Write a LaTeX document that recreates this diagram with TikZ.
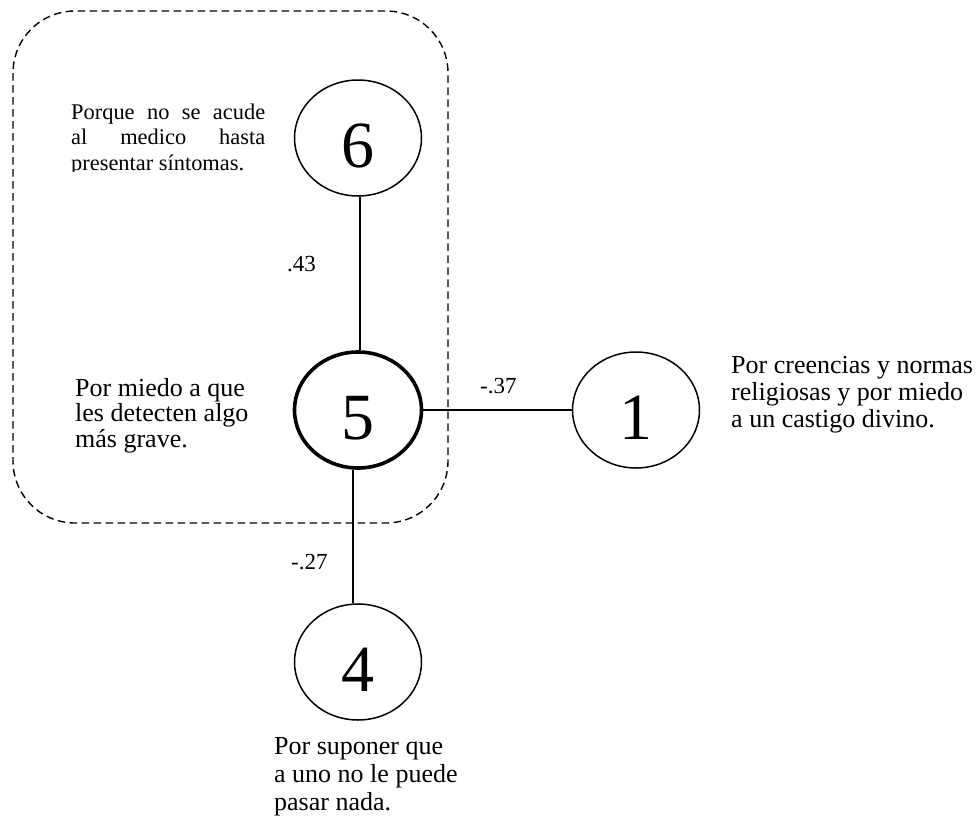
\documentclass[tikz,border=0pt]{standalone}
\usepackage{fontspec}
\setmainfont{Liberation Serif}
\usetikzlibrary{shapes.geometric}
\tikzset{
  num/.style={ellipse, draw, line width=1.5pt, minimum width=127pt, minimum height=116pt,
    inner sep=0pt, font=\fontsize{66}{66}\selectfont, text height=58pt, text depth=0pt},
  numbold/.style={num, line width=3.6pt},
  conn/.style={line width=1.5pt},
  grp/.style={line width=1.4pt, dash pattern=on 7.5pt off 4.5pt, rounded corners=62pt},
  lbl/.style={anchor=base west, inner sep=0pt, font=\fontsize{23}{26}\selectfont},
  txt/.style={anchor=base west, inner sep=0pt},
}
\begin{document}
\begin{tikzpicture}[x=1pt,y=-1pt]
\useasboundingbox (0,0) rectangle (978,820);
% group box
\draw[grp] (13,11) rectangle (448,523);
% nodes
\node[num] (c6) at (358,138) {6};
\node[numbold] (c5) at (358,410) {5};
\node[num] (c1) at (636,410) {1};
\node[num] (c4) at (358,662) {4};
% connectors
\draw[conn] (c6.272) -- (c6.272 |- c5.north);
\draw[conn] (c5.east) -- (c1.west);
\draw[conn] (c5.265) -- (c5.265 |- c4.north);
% weights
\node[lbl] (w43) at (287,271) {.43};
\node[lbl] (w37) at (480,393) {-.37};
\node[lbl] (w27) at (291,569) {-.27};
% texts
\begin{scope}
\clip (0,0) rectangle (300,171.5);
\node[txt] (t6) at (71,119) {\parbox[t]{194pt}{\fontsize{22.4}{25.5}\selectfont\noindent Porque no se acude al medico hasta\linebreak presentar síntomas.}};
\end{scope}
\node[txt] (t5) at (75,396) {\parbox[t]{220pt}{\fontsize{26}{25.5}\selectfont\raggedright Por miedo a que\\ les detecten algo\\ más grave.}};
\node[txt] (t1) at (731,373) {\parbox[t]{247pt}{\fontsize{26}{27}\selectfont\raggedright Por creencias y normas\\ religiosas y por miedo\\ a un castigo divino.}};
\node[txt] (t4) at (274,754) {\parbox[t]{220pt}{\fontsize{26}{28}\selectfont\raggedright Por suponer que\\ a uno no le puede\\ pasar nada.}};
\end{tikzpicture}
\end{document}
